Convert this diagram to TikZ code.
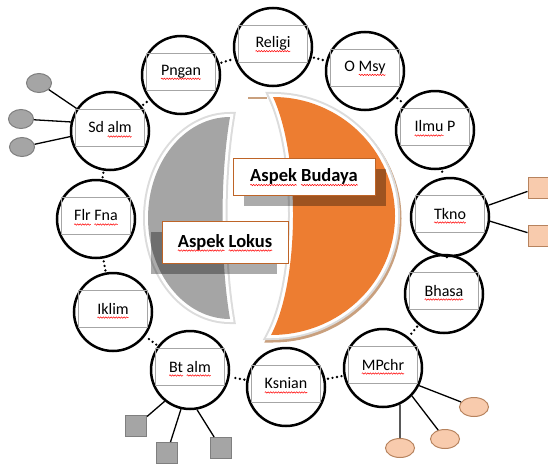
\documentclass[tikz,border=0pt]{standalone}
\usepackage{fontspec}
\setmainfont{Carlito}
\usepackage{tikz}
\usetikzlibrary{shapes.geometric}
\usetikzlibrary{decorations.pathmorphing}

\definecolor{orangefill}{HTML}{ED7D31}
\definecolor{greyfill}{HTML}{A5A5A5}
\definecolor{greyedge}{HTML}{7F7F7F}
\definecolor{peachfill}{HTML}{F8CBAD}
\definecolor{peachedge}{HTML}{B7835E}
\definecolor{rimgrey}{HTML}{DCDCDC}
\definecolor{shadowbrown}{HTML}{C9A07E}

% red wavy underline as the spell checker shows it
\newbox\spellbox
\newdimen\spellwd
\newcommand\spell[1]{\setbox\spellbox\hbox{#1}\spellwd=\wd\spellbox\leavevmode
  \rlap{\tikz[overlay, baseline=0pt]\draw[red, line width=0.5pt, decorate,
    decoration={snake, amplitude=0.7pt, segment length=2.6pt}]
    (0pt, -3.5pt) -- (\spellwd, -3.5pt);}\box\spellbox\relax}

\tikzset{
  ring/.style={circle, draw, line width=2.5pt, minimum size=78pt, inner sep=0pt},
  tag/.style={rectangle, draw=black!35, line width=0.6pt, minimum width=69pt,
    minimum height=37pt, inner sep=0pt, font=\fontsize{16}{19}\selectfont},
  aspect/.style={rectangle, draw=orangefill!80!black, fill=white, line width=0.8pt,
    inner sep=0pt, font=\bfseries\fontsize{18.5}{22}\selectfont},
  boxshadow/.style={rectangle, fill=black, opacity=0.33, inner sep=0pt},
  ringdots/.style={line width=2.6pt, line cap=round, dash pattern=on 0pt off 4.6pt,
    shorten >=2pt, shorten <=2pt},
  stub/.style={line width=1.3pt},
  greyball/.style={ellipse, draw=greyedge, fill=greyfill, line width=1pt,
    minimum width=25pt, minimum height=19pt, inner sep=0pt},
  peachball/.style={ellipse, draw=peachedge, fill=peachfill, line width=1pt,
    minimum width=29pt, minimum height=19pt, inner sep=0pt},
  greybox/.style={rectangle, draw=greyedge, fill=greyfill, line width=1pt,
    minimum size=21pt, inner sep=0pt},
  peachbox/.style={rectangle, draw=peachedge, fill=peachfill, line width=1pt,
    minimum size=21pt, inner sep=0pt}
}

\begin{document}
\begin{tikzpicture}[x=1pt, y=-1pt]
    \useasboundingbox (0, 0) rectangle (548, 463);
    \clip (0, 0) rectangle (548, 463);

    % the two halves in the middle
    \path[fill=greyfill, preaction={draw=rimgrey, line width=10pt},
          preaction={draw=white, line width=6pt}]
        (230, 117) .. controls (184.7, 117) and (148, 162.2) .. (148, 218)
        .. controls (148, 273.8) and (184.7, 319) .. (230, 319)
        .. controls (220, 260) and (220, 176) .. cycle;
    \path[fill=orangefill,
          preaction={draw=shadowbrown, line width=10pt, transform canvas={shift={(1.5pt, -2.5pt)}}},
          preaction={draw=rimgrey, line width=10pt},
          preaction={draw=white, line width=6pt}]
        (273, 97) .. controls (339.9, 97) and (395, 150.3) .. (395, 216)
        .. controls (395, 281.7) and (339.9, 335) .. (271, 335)
        .. controls (300, 280) and (300, 155) .. cycle;
    \draw[shadowbrown, line width=2.5pt] (248, 98) -- (267, 98);

    \node[boxshadow, minimum width=142pt, minimum height=37pt] at (315, 187.5) (budayaS) {};
    \node[aspect, minimum width=142pt, minimum height=37pt] at (304, 176.5) (budaya) {\spell{Aspek} \spell{Budaya}};
    \node[boxshadow, minimum width=126pt, minimum height=42pt] at (214, 252.5) (lokusS) {};
    \node[aspect, minimum width=126pt, minimum height=42pt] at (225, 242) (lokus) {\spell{Aspek} \spell{Lokus}};

    % ring of circles
    \node[ring] at (273, 47) (religi) {};
    \node[tag] at (273, 43.5) (religiT) {\spell{Religi}};
    \node[ring] at (365, 71) (omsy) {};
    \node[tag] at (365, 67.5) (omsyT) {O \spell{Msy}};
    \node[ring] at (435, 130) (ilmup) {};
    \node[tag] at (435, 126.5) (ilmupT) {\spell{Ilmu} P};
    \node[ring] at (450, 217) (tkno) {};
    \node[tag] at (450, 213.5) (tknoT) {\spell{Tkno}};
    \node[ring] at (444, 294) (bhasa) {};
    \node[tag] at (444, 290.5) (bhasaT) {\spell{Bhasa}};
    \node[ring] at (383, 368) (mpchr) {};
    \node[tag] at (383, 364.5) (mpchrT) {\spell{MPchr}};
    \node[ring] at (286, 387) (ksnian) {};
    \node[tag] at (286, 383.5) (ksnianT) {\spell{Ksnian}};
    \node[ring] at (190, 370) (btalm) {};
    \node[tag] at (190, 366.5) (btalmT) {\spell{Bt} \spell{alm}};
    \node[ring] at (113, 312) (iklim) {};
    \node[tag] at (113, 308.5) (iklimT) {\spell{Iklim}};
    \node[ring] at (96, 219) (flrfna) {};
    \node[tag] at (96, 215.5) (flrfnaT) {\spell{Flr} \spell{Fna}};
    \node[ring] at (110, 131) (sdalm) {};
    \node[tag] at (110, 127.5) (sdalmT) {Sd \spell{alm}};
    \node[ring] at (181, 75) (pngan) {};
    \node[tag] at (181, 71.5) (pnganT) {\spell{Pngan}};

    \draw (pngan) edge[ringdots] (religi);
    \draw (religi) edge[ringdots] (omsy);
    \draw (omsy) edge[ringdots] (ilmup);
    \draw (ilmup) edge[ringdots] (tkno);
    \draw (tkno) edge[ringdots, shorten >=0pt, shorten <=0pt] (bhasa);
    \draw (bhasa) edge[ringdots] (mpchr);
    \draw (mpchr) edge[ringdots] (ksnian);
    \draw (ksnian) edge[ringdots] (btalm);
    \draw (btalm) edge[ringdots] (iklim);
    \draw (iklim) edge[ringdots] (flrfna);
    \draw (flrfna) edge[ringdots] (sdalm);
    \draw (sdalm) edge[ringdots] (pngan);

    % small things hanging off some circles
    \node[greyball] at (39, 83) (sdball1) {};
    \node[greyball] at (21, 119) (sdball2) {};
    \node[greyball] at (22, 147) (sdball3) {};
    \draw[stub] (sdalm.146) -- (sdball1);
    \draw[stub] (sdalm.167) -- (sdball2);
    \draw[stub] (sdalm.188) -- (sdball3);

    \node[peachbox] at (538.5, 187.5) (tknobox1) {};
    \node[peachbox] at (538.5, 236) (tknobox2) {};
    \draw[stub] (tkno.17) -- (tknobox1);
    \draw[stub] (tkno.354) -- (tknobox2);

    \node[greybox] at (136, 426) (btbox1) {};
    \node[greybox] at (167, 453) (btbox2) {};
    \node[greybox] at (221, 448) (btbox3) {};
    \draw[stub] (btalm.231) -- (btbox1);
    \draw[stub] (btalm.257) -- (btbox2);
    \draw[stub] (btalm.280) -- (btbox3);

    \node[peachball] at (474, 407) (mpball1) {};
    \node[peachball] at (445, 439) (mpball2) {};
    \node[peachball] at (400, 448) (mpball3) {};
    \draw[stub] (mpchr.334) -- (mpball1);
    \draw[stub] (mpchr.316) -- (mpball2);
    \draw[stub] (mpchr.295) -- (mpball3);

\end{tikzpicture}
\end{document}
